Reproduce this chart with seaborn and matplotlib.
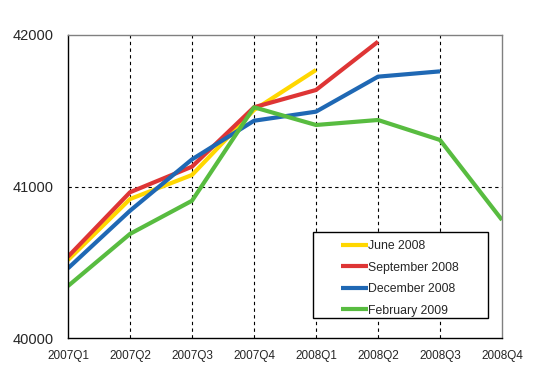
import seaborn as sns
import matplotlib.pyplot as plt
from matplotlib.patches import Rectangle
import pandas as pd

quarters = ['2007Q1', '2007Q2', '2007Q3', '2007Q4', '2008Q1', '2008Q2', '2008Q3', '2008Q4']
series_names = ['June 2008', 'September 2008', 'December 2008', 'February 2009']
june_2008 = [40515, 40917, 41076, 41505, 41769]
september_2008 = [40537, 40962, 41131, 41523, 41637, 41956]
december_2008 = [40460, 40840, 41179, 41434, 41494, 41725, 41760]
february_2009 = [40343, 40687, 40906, 41523, 41406, 41439, 41307, 40779]
colors = ['#FFD700', '#DE3535', '#1F68B4', '#58BC40']

# long form for seaborn
rows = []
for name, vals in zip(series_names, [june_2008, september_2008, december_2008, february_2009]):
    for i, v in enumerate(vals):
        rows.append({'pos': i, 'value': v, 'series': name})
df = pd.DataFrame(rows)

sns.set_style('white')
plt.rcParams['font.family'] = ['Liberation Sans', 'DejaVu Sans']

W, H = 542, 379
x0, x1, y0, y1 = 68, 502, 35, 338
fig = plt.figure(figsize=(W/100, H/100), dpi=100)
ax = fig.add_axes([x0/W, 1 - y1/H, (x1-x0)/W, (y1-y0)/H])

sns.lineplot(data=df, x='pos', y='value', hue='series', hue_order=series_names,
             palette=colors, linewidth=3, ax=ax, solid_capstyle='butt')

ax.set_xlim(0, len(quarters) - 1)
ax.set_ylim(40000, 42000)
ax.set_xticks(range(len(quarters)))
ax.set_xticklabels(quarters, fontsize=8.5)
ax.set_yticks([40000, 41000, 42000])
ax.set_yticklabels(['40000', '41000', '42000'], fontsize=10.5)
ax.tick_params(axis='x', pad=9, length=0)
ax.tick_params(axis='y', pad=10, length=0)
ax.set_xlabel('')
ax.set_ylabel('')

# dashed grid at categories and 41000
for i in range(1, len(quarters) - 1):
    ax.axvline(i, color='black', linestyle=(0, (3, 3)), linewidth=0.8, zorder=0)
ax.axhline(41000, color='black', linestyle=(0, (3, 3)), linewidth=0.8, zorder=0)

for s in ['left', 'bottom']:
    ax.spines[s].set_color('black')
    ax.spines[s].set_linewidth(1)
for s in ['top', 'right']:
    ax.spines[s].set_color('#808080')
    ax.spines[s].set_linewidth(1)

# legend box drawn separately so the entries can sit inside with a wide left margin
def fx(px):
    return (px - x0) / (x1 - x0)

def fy(py):
    return (y1 - py) / (y1 - y0)

box = Rectangle((fx(313), fy(318)), fx(488) - fx(313), fy(232) - fy(318), transform=ax.transAxes,
                facecolor='white', edgecolor='black', linewidth=1, zorder=5)
ax.add_patch(box)

leg = ax.legend(loc='upper left', bbox_to_anchor=(fx(341), fy(240)), frameon=False,
                fontsize=8.8, handlelength=2.2, handletextpad=0.05, borderpad=0,
                borderaxespad=0, labelspacing=0.78)
leg.set_zorder(6)
for line in leg.get_lines():
    line.set_linewidth(3)
    line.set_solid_capstyle('butt')

fig.savefig('out.png', dpi=100)
